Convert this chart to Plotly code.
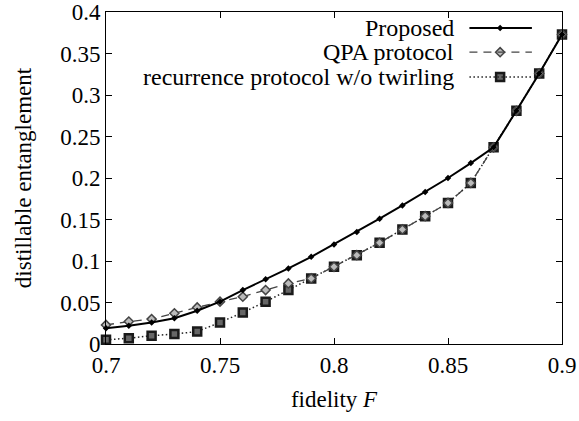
import plotly.graph_objects as go

# fidelity values (x axis)
fidelity = [0.70, 0.71, 0.72, 0.73, 0.74, 0.75, 0.76, 0.77, 0.78, 0.79, 0.80,
            0.81, 0.82, 0.83, 0.84, 0.85, 0.86, 0.87, 0.88, 0.89, 0.90]

# distillable entanglement
proposed = [0.019, 0.022, 0.026, 0.031, 0.040, 0.051, 0.065, 0.078, 0.091, 0.105, 0.120,
            0.135, 0.151, 0.167, 0.183, 0.200, 0.218, 0.237, 0.281, 0.326, 0.373]
qpa = [0.023, 0.027, 0.030, 0.037, 0.044, 0.051, 0.057, 0.065, 0.073, 0.079, 0.093,
       0.107, 0.122, 0.138, 0.154, 0.170, 0.194, 0.237, 0.281, 0.326, 0.373]
recurrence = [0.005, 0.007, 0.010, 0.012, 0.015, 0.026, 0.038, 0.051, 0.065, 0.079, 0.093,
              0.107, 0.122, 0.138, 0.154, 0.170, 0.194, 0.237, 0.281, 0.326, 0.373]

series_names = ["Proposed", "QPA protocol", "recurrence protocol w/o twirling"]
x_ticks = [0.7, 0.75, 0.8, 0.85, 0.9]
y_ticks = [0, 0.05, 0.1, 0.15, 0.2, 0.25, 0.3, 0.35, 0.4]

FONT = "Liberation Serif"

styles = [
    dict(line=dict(color="black", width=2, dash="solid"),
         marker=dict(symbol="diamond", size=5, color="black")),
    dict(line=dict(color="#444444", width=1.3, dash="8px,6px"),
         marker=dict(symbol="diamond", size=7, color="#bbbbbb",
                     line=dict(color="#444444", width=1.5))),
    dict(line=dict(color="#222222", width=1.5, dash="1.5px,2.5px"),
         marker=dict(symbol="square", size=8, color="#666666",
                     line=dict(color="#1a1a1a", width=2.5))),
]

fig = go.Figure()

# draw back to front so the proposed curve sits on top
for name, ys, st in reversed(list(zip(series_names, [proposed, qpa, recurrence], styles))):
    fig.add_trace(go.Scatter(x=fidelity, y=ys, mode="lines+markers", name=name,
                             line=st["line"], marker=st["marker"], showlegend=False,
                             cliponaxis=False))

# gnuplot-style key: text right aligned, sample to the right
key_y = [0.952, 0.879, 0.804]
key_marker_x = 0.8643
for name, ky, st in zip(series_names, key_y, styles):
    fig.add_annotation(x=0.768, y=ky, xref="paper", yref="paper", text=name,
                       showarrow=False, xanchor="right", yanchor="middle",
                       font=dict(family=FONT, size=24, color="black"))
    fig.add_shape(type="line", xref="paper", yref="paper", x0=0.797, x1=0.934,
                  y0=ky, y1=ky, line=st["line"])
    fig.add_trace(go.Scatter(x=[key_marker_x], y=[ky], xaxis="x2", yaxis="y2", mode="markers",
                             marker=st["marker"], showlegend=False, hoverinfo="skip"))

axis_common = dict(showline=True, linecolor="black", linewidth=1, mirror="ticks",
                   ticks="inside", ticklen=6, tickcolor="black", showgrid=False,
                   zeroline=False, automargin=False,
                   tickfont=dict(family=FONT, size=23, color="black"))

fig.update_layout(
    width=579, height=421,
    margin=dict(l=106, r=17, t=12, b=77),
    paper_bgcolor="white", plot_bgcolor="white",
    font=dict(family=FONT, size=23, color="black"),
    xaxis=dict(range=[0.7, 0.9], tickvals=x_ticks, ticktext=[f"{v:g}" for v in x_ticks],
               title=dict(text="fidelity <i>F</i>", standoff=14,
                          font=dict(family=FONT, size=23)), **axis_common),
    yaxis=dict(range=[0, 0.4], tickvals=y_ticks, ticktext=[f"{v:g}" for v in y_ticks],
               title=dict(text="distillable entanglement", standoff=22,
                          font=dict(family=FONT, size=23)), **axis_common),
    xaxis2=dict(range=[0, 1], overlaying="x", visible=False, anchor="y2"),
    yaxis2=dict(range=[0, 1], overlaying="y", visible=False, anchor="x2"),
)

# the page body has a default margin; drop it so the figure sits at the corner
fig.write_html("out.html", config={"displayModeBar": False},
               post_script="document.body.style.margin='0';")
